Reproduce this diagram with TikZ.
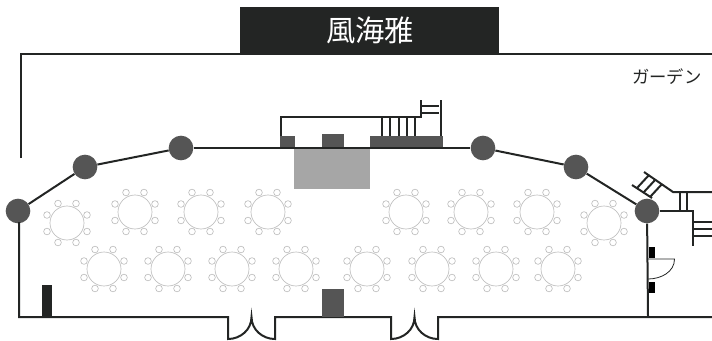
\documentclass[tikz,border=0pt]{standalone}
\usepackage{fontspec}
\newfontfamily\cjk{Noto Sans CJK JP}
\definecolor{wallcol}{HTML}{232524}
\definecolor{pillarcol}{HTML}{555555}
\definecolor{stagecol}{HTML}{A6A6A6}
\definecolor{chaircol}{HTML}{BEBEBE}
\tikzset{
	wall/.style={draw=wallcol, line width=1.5pt},
	thinwall/.style={draw=wallcol, line width=0.6pt},
	pillar/.style={draw=none, circle, fill=pillarcol, minimum size=18.5pt, inner sep=0pt},
	block/.style={draw=none, rectangle, fill=pillarcol, inner sep=0pt, anchor=north west},
	roundtable/.style={draw=chaircol, circle, line width=0.5pt, minimum size=25.5pt, inner sep=0pt},
	chair/.style={draw=chaircol, circle, line width=0.5pt, minimum size=5pt, inner sep=0pt},
}
\begin{document}
\begin{tikzpicture}[x=0.75pt, y=-0.75pt]
	\useasboundingbox (0,0) rectangle (712,340);
	% title and outer line
	\node[draw=none, rectangle, fill=wallcol, minimum width=194.25pt, minimum height=34.5pt, inner sep=0pt] (banner)at(369.5, 30) {};
	\node[text=white, font=\cjk\fontsize{22}{24}\selectfont, inner sep=0pt] (title)at(370, 30) {風海雅};
	\node[text=wallcol, font=\cjk\fontsize{13}{15}\selectfont, anchor=west, inner sep=0pt] (garden)at(632, 77) {ガーデン};
	\coordinate (outerA)at(21, 158);
	\coordinate (outerB)at(21, 54);
	\coordinate (outerC)at(712, 54);
	\draw[wall] (outerA) -- (outerB) -- (outerC);
	% stage
	\node[block, fill=stagecol, minimum width=57pt, minimum height=30.75pt] (stage)at(294, 148) {};
	\node[block, minimum width=11.25pt, minimum height=9pt] (boxA)at(280, 136) {};
	\node[block, minimum width=16.5pt, minimum height=10.5pt] (boxB)at(322, 134) {};
	\node[block, minimum width=54.75pt, minimum height=9pt] (boxC)at(370, 136) {};
	% pillars
	\node[pillar] (P1)at(18, 211) {};
	\node[pillar] (P2)at(85, 167) {};
	\node[pillar] (P3)at(181, 148) {};
	\node[pillar] (P4)at(483, 148) {};
	\node[pillar] (P5)at(576, 167) {};
	\node[pillar] (P6)at(647, 211) {};
	\draw[wall] (P1) -- (P2);
	\draw[wall] (P2) -- (P3);
	\draw[wall] (P3) -- (P4);
	\draw[wall] (P4) -- (P5);
	\draw[wall] (P5) -- (P6);
	% back stairs
	\coordinate (backA)at(281, 136);
	\coordinate (backB)at(281, 117);
	\coordinate (backC)at(421, 117);
	\coordinate (backD)at(421, 100);
	\coordinate (backE)at(441, 100);
	\coordinate (backF)at(441, 136);
	\draw[wall] (backA) -- (backB) -- (backC) -- (backD);
	\draw[wall] (backE) -- (backF);
	\foreach \x in {382, 390, 399, 407, 415}
		\draw[wall] (\x, 117) -- (\x, 136);
	\foreach \y in {106, 113}
		\draw[wall] (421, \y) -- (439, \y);
	% front wall and doors
	\coordinate (frontA)at(19, 222);
	\coordinate (frontB)at(19, 317);
	\coordinate (doorA)at(228, 317);
	\coordinate (doorB)at(228, 339);
	\coordinate (doorC)at(251.5, 317);
	\coordinate (doorD)at(275, 339);
	\coordinate (doorE)at(275, 317);
	\coordinate (doorF)at(391, 317);
	\coordinate (doorG)at(391, 339);
	\coordinate (doorH)at(414.5, 317);
	\coordinate (doorI)at(438, 339);
	\coordinate (doorJ)at(438, 317);
	\coordinate (frontC)at(712, 317);
	\draw[wall] (frontA) -- (frontB) -- (doorA) -- (doorB) to[out=0, in=-90] (doorC) to[out=-90, in=180] (doorD) -- (doorE) -- (doorF) -- (doorG) to[out=0, in=-90] (doorH) to[out=-90, in=180] (doorI) -- (doorJ) -- (frontC);
	\node[block, fill=wallcol, minimum width=7.5pt, minimum height=23.25pt] (rack)at(42, 285) {};
	\node[block, minimum width=16.5pt, minimum height=21pt] (boxD)at(322, 289) {};
	% right side rooms
	\coordinate (sideA)at(648, 317);
	\coordinate (sideB)at(692.5, 211);
	\coordinate (sideC)at(692.5, 246);
	\draw[wall] (P6) -- (sideA);
	\draw[wall] (P6) -- (sideB) -- (sideC);
	\foreach \y in {222, 229, 236}
		\draw[wall] (693, \y) -- (712, \y);
	\coordinate (stairA)at(644, 172);
	\coordinate (stairB)at(673, 192);
	\coordinate (stairC)at(712, 192);
	\coordinate (stairD)at(632, 185);
	\coordinate (stairE)at(652, 198);
	\draw[wall] (stairA) -- (stairB) -- (stairC);
	\draw[wall] (stairD) -- (stairE);
	\foreach \x/\y in {0/0, 6.5/4.5, 13/9}
		\draw[wall] (637+\x, 188+\y) -- (649+\x, 175+\y);
	\foreach \x in {679.5, 687}
		\draw[wall] (\x, 192) -- (\x, 211);
	\node[block, fill=black, minimum width=4.5pt, minimum height=8pt] (markA)at(648.5, 247) {};
	\node[block, fill=black, minimum width=4.5pt, minimum height=8pt] (markB)at(648.5, 282) {};
	\coordinate (swingA)at(648, 259);
	\coordinate (swingB)at(674.5, 259);
	\coordinate (swingC)at(648, 279);
	\draw[thinwall] (swingA) -- (swingB) to[out=-90, in=0] (swingC);
	% tables with eight chairs
	\foreach \i/\x/\y in {1/67/223, 2/135/212, 3/201/212, 4/268/212, 5/406/212, 6/471/212, 7/537/212, 8/604/223, 9/104/269, 10/168/269, 11/232/269, 12/296/269, 13/367/269, 14/432/269, 15/496/269, 16/558/269}{
		\node[roundtable] (T\i)at(\x, \y) {};
		\foreach \c/\dx/\dy in {a/-9/-19.5, b/9/-19.5, c/-20/-8, d/20/-8, e/-20/8.5, f/20/8.5, g/-9/19.5, h/9/19.5}
			\node[chair] (T\i\c)at(\x+\dx, \y+\dy) {};
	}
\end{tikzpicture}
\end{document}
